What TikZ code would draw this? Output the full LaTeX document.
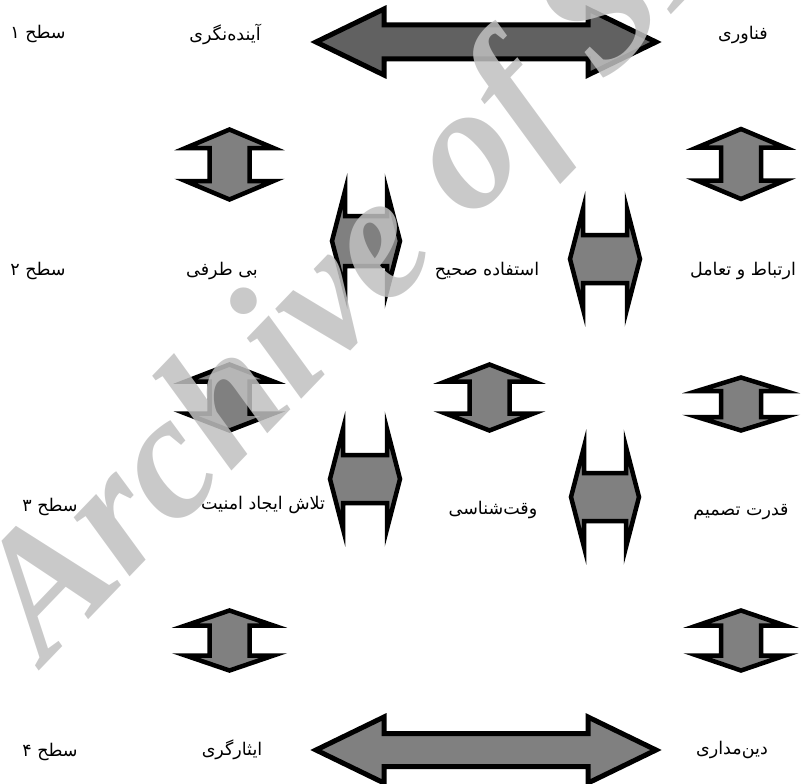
\documentclass[tikz,border=0pt]{standalone}
\usepackage{fontspec}
\newfontfamily\fa[Script=Arabic]{DejaVu Sans}
\newfontfamily\wmfont{Liberation Serif}
\TeXXeTstate=1
\definecolor{shaftgray}{HTML}{808080}
\definecolor{darkgray}{HTML}{616161}
\definecolor{wmgray}{HTML}{C0C0C0}

\tikzset{
  lbl/.style={font=\fa\fontsize{17.5}{20}\selectfont, inner sep=0pt, anchor=center},
  blk/.style={draw=black, line width=4.5pt, fill=shaftgray, line join=miter, miter limit=10},
  bigblk/.style={blk, line width=5pt},
  wm/.style={font=\wmfont\bfseries\itshape\fontsize{177}{177}\selectfont,
    text=wmgray, opacity=0.85, inner sep=0pt, anchor=base west, rotate=46.1},
  % double-headed block arrow along x: half length, head length, half head width, half shaft width
  pics/dblarrow/.style n args={4}{code={
    \path[pic actions] (-#1,0) -- (-#1+#2,-#3) -- (-#1+#2,-#4) -- (#1-#2,-#4)
      -- (#1-#2,-#3) -- (#1,0) -- (#1-#2,#3) -- (#1-#2,#4) -- (-#1+#2,#4)
      -- (-#1+#2,#3) -- cycle;
  }},
}

\begin{document}
\begin{tikzpicture}[x=1pt,y=-1pt]
\useasboundingbox (0,0) rectangle (804,784);

% level labels
\node[lbl] (s1) at (38,34)  {\beginR سطح ۱\endR};
\node[lbl] (s2) at (38,271) {\beginR سطح ۲\endR};
\node[lbl] (s3) at (50,507) {\beginR سطح ۳\endR};
\node[lbl] (s4) at (50,752) {\beginR سطح ۴\endR};

% row 1
\node[lbl] (a1) at (225,34)  {\beginR آینده^^^^200cنگری\endR};
\node[lbl] (c1) at (743,35)  {\beginR فناوری\endR};
% row 2
\node[lbl] (a2) at (222,271) {\beginR بی طرفی\endR};
\node[lbl] (b2) at (487,271) {\beginR استفاده صحیح\endR};
\node[lbl] (c2) at (743,271) {\beginR ارتباط و تعامل\endR};
% row 3
\node[lbl] (a3) at (263,505) {\beginR تلاش ایجاد امنیت\endR};
\node[lbl] (b3) at (493,510) {\beginR وقت^^^^200cشناسی\endR};
\node[lbl] (c3) at (741,512) {\beginR قدرت تصمیم\endR};
% row 4
\node[lbl] (a4) at (232,750) {\beginR ایثارگری\endR};
\node[lbl] (c4) at (732,750) {\beginR دین^^^^200cمداری\endR};

% wide arrows between the outer columns
\pic[bigblk, fill=darkgray] at (486,42) {dblarrow={170}{68}{33}{17}};
\pic[bigblk] at (486,750) {dblarrow={170}{68}{33}{16.5}};

% horizontal links inside rows 2 and 3
\pic[blk] at (366,241) {dblarrow={34}{13}{50}{25}};
\pic[blk] at (605,259) {dblarrow={35}{13}{50}{24}};
\pic[blk] at (365,479) {dblarrow={35}{13}{50}{24}};
\pic[blk] at (605,497) {dblarrow={34}{13}{50}{24}};

% vertical links between rows
\pic[blk, rotate=90] at (229.5,164.5) {dblarrow={35}{18.5}{44}{20}};
\pic[blk, rotate=90] at (741,164)     {dblarrow={35}{18.5}{44}{20}};
\pic[blk, rotate=90] at (229.5,397.5) {dblarrow={33}{17}{44}{20}};
\pic[blk, rotate=90] at (489.5,397.5) {dblarrow={33}{17}{44}{20}};
\pic[blk, rotate=90] at (741,404)     {dblarrow={26.5}{13.5}{44}{20}};
\pic[blk, rotate=90] at (229.5,640.5) {dblarrow={30}{15}{44}{20}};
\pic[blk, rotate=90] at (741,640.5)   {dblarrow={30}{15}{44}{20}};

% watermark
\begin{scope}
  \clip (0,0) rectangle (804,784);
  \node[wm] (mark) at (45.6,665) {Archive of SID};
\end{scope}
\end{tikzpicture}
\end{document}
